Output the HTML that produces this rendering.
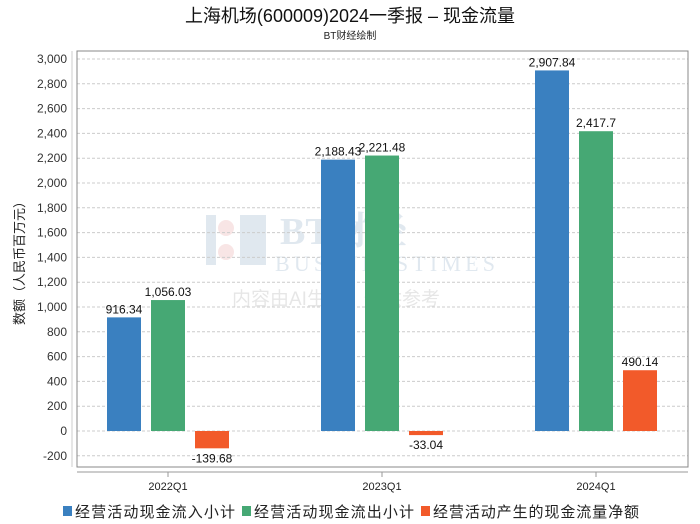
<!DOCTYPE html>
<html><head><meta charset="utf-8"><style>
body{margin:0;background:#fff;font-family:"Liberation Sans","Noto Sans CJK SC",sans-serif;}
#c{position:relative;width:700px;height:524px;overflow:hidden;}
</style></head><body>
<div id="c">
<svg id="s" width="700" height="524" xmlns="http://www.w3.org/2000/svg">
<text x="350" y="22" text-anchor="middle" font-size="18" font-family="Liberation Sans,Noto Sans CJK SC,sans-serif" fill="#111">上海机场(600009)2024一季报 – 现金流量</text>
<text x="350" y="39" text-anchor="middle" font-size="10" fill="#222">BT财经绘制</text>
<g opacity="0.2">
<circle cx="226" cy="228" r="8" fill="#e08080"/><circle cx="226" cy="252" r="8" fill="#e08080"/>
<rect x="206" y="215" width="10" height="50" fill="#6a8fb5"/><rect x="240" y="215" width="26" height="50" fill="#6a8fb5"/>
<text x="280" y="244" font-size="38" font-weight="bold" fill="#6a8fb5" font-family="Liberation Serif,Noto Serif CJK SC,serif">BT财经</text>
<text x="275" y="271" font-size="22" fill="#6a8fb5" font-family="Liberation Serif,serif" textLength="220">BUSINESSTIMES</text>
<text x="232" y="305" font-size="19" fill="#888">内容由AI生成，仅供参考</text>
</g>
<text transform="translate(24,260) rotate(-90)" text-anchor="middle" font-size="13" fill="#222">数额（人民币百万元）</text>
<g id="grid"></g><g id="bars"></g>
<rect x="77" y="51" width="611" height="416" fill="none" stroke="#888"/>
<line x1="77" y1="472" x2="688" y2="472" stroke="#999"/>
<line x1="72" y1="51" x2="72" y2="467" stroke="#ccc"/>
<g id="legend" font-size="15" fill="#222"></g>
</svg>
</div>
<script>
const categories=["2022Q1","2023Q1","2024Q1"];
const inflow=[916.34,2188.43,2907.84];
const outflow=[1056.03,2221.48,2417.7];
const net=[-139.68,-33.04,490.14];
const inflowLabels=["916.34","2,188.43","2,907.84"];
const outflowLabels=["1,056.03","2,221.48","2,417.7"];
const netLabels=["-139.68","-33.04","490.14"];
const yTicks=[-200,0,200,400,600,800,1000,1200,1400,1600,1800,2000,2200,2400,2600,2800,3000];
const seriesNames=["经营活动现金流入小计","经营活动现金流出小计","经营活动产生的现金流量净额"];
const colors=["#3a80c0","#46a874","#f25a2a"];
const NS="http://www.w3.org/2000/svg";
function y(v){return 431-v*0.124;}
function x(i){return 168+214*i;}
function mk(t,a,p){const e=document.createElementNS(NS,t);for(const k in a)e.setAttribute(k,a[k]);p.appendChild(e);return e;}
const grid=document.getElementById('grid');
yTicks.forEach(v=>{
 const l=mk('line',{x1:77,x2:688,y1:y(v),y2:y(v),stroke:'#ccc','stroke-dasharray':'3,2'},grid);
 
 
 const t=mk('text',{x:67,y:y(v)+4,'text-anchor':'end','font-size':12,fill:'#333'},grid);
 t.textContent=v.toLocaleString('en-US');
 
 
});
const bars=document.getElementById('bars');
const series=[inflow,outflow,net],labels=[inflowLabels,outflowLabels,netLabels];
categories.forEach((c,i)=>{
 const tk=mk('line',{x1:x(i),x2:x(i),y1:472,y2:477,stroke:'#999'},bars);
 
 
 const t=mk('text',{x:x(i),y:490,'text-anchor':'middle','font-size':11,fill:'#222'},bars);
 t.textContent=c;
 
 
 series.forEach((s,j)=>{
  const v=s[i],bx=x(i)-61+j*44,top=Math.min(y(v),y(0)),h=Math.abs(y(v)-y(0));
  const r=mk('rect',{x:bx,y:top,width:34,height:h,fill:colors[j]},bars);
  
  
  const ly=v>=0?top-4:top+h+14;
  const lt=mk('text',{x:bx+17,y:ly,'text-anchor':'middle','font-size':12,fill:'#111'},bars);
  lt.textContent=labels[j][i];
  
  
 });
});
const lg=document.getElementById('legend');
const lx=[63,242,421];
const lw=[160,160,206];
seriesNames.forEach((n,j)=>{
 const r=mk('rect',{x:lx[j],y:506,width:9,height:10,fill:colors[j]},lg);
 
 
 const t=mk('text',{x:lx[j]+12,y:517,'font-size':15,fill:'#222',textLength:lw[j]},lg);
 t.textContent=n;
 
 
});
</script>
</body></html>
